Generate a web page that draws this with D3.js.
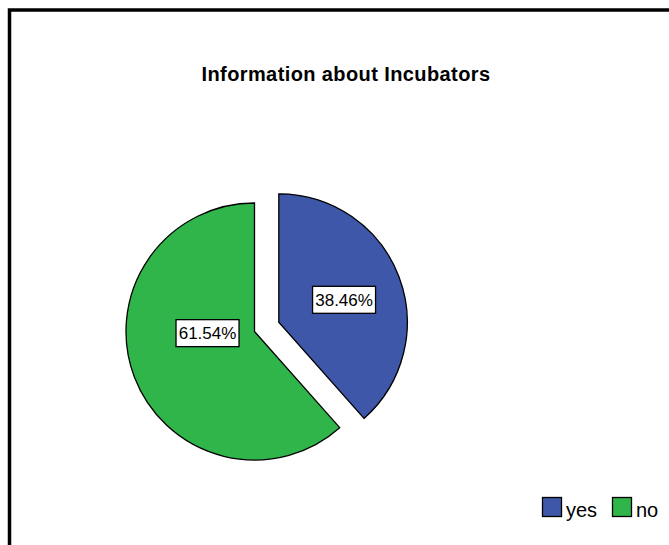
<!DOCTYPE html>
<html>
<head>
<meta charset="utf-8">
<script src="https://cdn.jsdelivr.net/npm/d3@7"></script>
<style>
  body { margin: 0; background: #fff; }
  svg { display: block; font-family: "Liberation Sans", Arial, sans-serif; }
</style>
</head>
<body>
<div id="root"></div>
<script>
const w = 669;
const h = 545;

// data
const categories = ["yes", "no"];
const percents = [38.46, 61.54];
const colors = ["#3f57a8", "#30b54a"];

// layout
const center = {x: 254.5, y: 331.5};
const radius = 128.5;
const explode = [26, 0];
// label placement (degrees clockwise from top, distance from slice center)
const labelAngle = [71, 268];
const labelDist = [69, 47];

const svg = d3.select("#root")
    .append("svg")
    .attr("width", w)
    .attr("height", h);

// frame
svg.append("path")
    .attr("d", "M9.5," + h + " L9.5,10 L" + w + ",10")
    .attr("fill", "none")
    .attr("stroke", "#000")
    .attr("stroke-width", 3.5);

// title
svg.append("text")
    .attr("x", 346)
    .attr("y", 81)
    .attr("text-anchor", "middle")
    .attr("font-size", 20)
    .attr("letter-spacing", 0.4)
    .attr("font-weight", "bold")
    .text("Information about Incubators");

const pie = d3.pie().sort(null).value(d => d)(percents);
const arc = d3.arc().innerRadius(0).outerRadius(radius);

const slices = svg.append("g")
    .attr("transform", "translate(" + center.x + "," + center.y + ")")
    .selectAll("g")
    .data(pie)
    .enter()
    .append("g")
    .attr("transform", (d, i) => {
        const mid = (d.startAngle + d.endAngle) / 2;
        return "translate(" + (explode[i] * Math.sin(mid)) + "," + (-explode[i] * Math.cos(mid)) + ")";
    });

slices.append("path")
    .attr("d", arc)
    .attr("fill", (d, i) => colors[i])
    .attr("stroke", "#000")
    .attr("stroke-width", 1.3)
    .attr("stroke-linejoin", "miter");

// labels
slices.each(function(d, i) {
    const a = labelAngle[i] * Math.PI / 180;
    const lx = labelDist[i] * Math.sin(a);
    const ly = -labelDist[i] * Math.cos(a);
    const g = d3.select(this).append("g")
        .attr("transform", "translate(" + lx + "," + ly + ")");
    const t = g.append("text")
        .attr("text-anchor", "middle")
        .attr("dy", "0.36em")
        .attr("font-size", 17)
        .text(d.data.toFixed(2) + "%");
    const bb = t.node().getBBox();
    g.insert("rect", "text")
        .attr("x", -31.5)
        .attr("y", -13.5)
        .attr("width", 63)
        .attr("height", 27)
        .attr("fill", "#fff")
        .attr("stroke", "#000")
        .attr("stroke-width", 1.3);
});

// legend
const legendX = [542, 612];
const legend = svg.append("g").attr("id", "legend");
categories.forEach((c, i) => {
    legend.append("rect")
        .attr("x", legendX[i] + 0.5)
        .attr("y", 497.5)
        .attr("width", 19)
        .attr("height", 19)
        .attr("fill", colors[i])
        .attr("stroke", "#000")
        .attr("stroke-width", 1.3);
    legend.append("text")
        .attr("x", legendX[i] + 24)
        .attr("y", 517)
        .attr("font-size", 20)
        .text(c);
});
</script>
</body>
</html>
